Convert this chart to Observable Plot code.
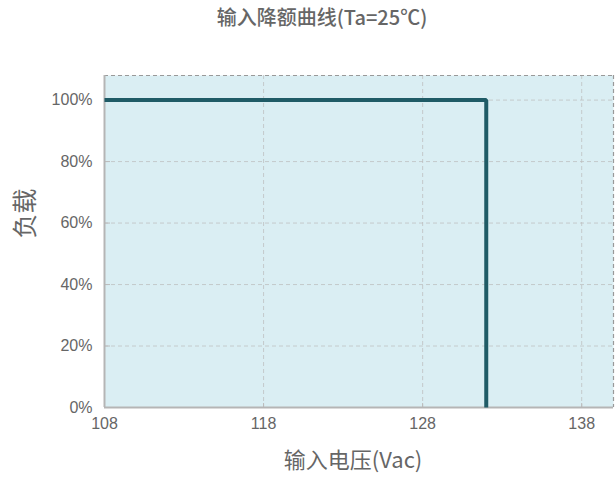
<!DOCTYPE html>
<html>
<head>
<meta charset="utf-8">
<script src="https://cdn.jsdelivr.net/npm/d3@7"></script>
<script src="https://cdn.jsdelivr.net/npm/@observablehq/plot@0.6"></script>
<style>
  html, body { margin: 0; padding: 0; background: #fff; }
</style>
</head>
<body>
<div id="chart"></div>
<script>
const voltage = [108, 132, 132];
const load = [100, 100, 0];
const xTicks = [108, 118, 128, 138];
const yTicks = [0, 20, 40, 60, 80, 100];
const title = "输入降额曲线(Ta=25℃)";
const xLabel = "输入电压(Vac)";
const yLabel = "负载";

const data = voltage.map((v, i) => ({x: v, y: load[i]}));
const font = "'Liberation Sans', Arial, 'Noto Sans CJK SC', sans-serif";
const cjk = "'Noto Sans CJK SC', 'Liberation Sans', sans-serif";

const chart = Plot.plot({
  width: 616,
  height: 477,
  marginLeft: 104,
  marginRight: 3,
  marginTop: 75,
  marginBottom: 70,
  style: {fontFamily: font, fontSize: "16px", color: "#666", background: "#fff"},
  x: {domain: [108, 140], ticks: xTicks},
  y: {domain: [0, 108], ticks: yTicks},
  marks: [
    Plot.frame({fill: "#daeef3", stroke: null}),
    Plot.gridX(xTicks.slice(1), {stroke: "#bbb", strokeOpacity: 0.7, strokeDasharray: "4,3"}),
    Plot.gridY(yTicks.slice(1), {stroke: "#bbb", strokeOpacity: 0.7, strokeDasharray: "4,3"}),
    Plot.ruleY([108], {stroke: "#999", strokeDasharray: "4,3", strokeWidth: 1.2}),
    Plot.ruleX([140], {stroke: "#999", strokeDasharray: "4,3", strokeWidth: 1.2}),
    Plot.axisX({anchor: "top", ticks: xTicks, text: null, label: null, tickSize: 5, dy: 332, stroke: "#bbb"}),
    Plot.axisY({anchor: "right", ticks: yTicks, text: null, label: null, tickSize: 5, dx: -509, stroke: "#bbb"}),
    Plot.axisX({ticks: xTicks, tickSize: 0, tickPadding: 10, fill: "#666", fontSize: 16, label: null}),
    Plot.axisY({ticks: yTicks, tickSize: 0, tickPadding: 12, fill: "#666", fontSize: 16, label: null,
      tickFormat: d => d + "%"}),
    Plot.ruleX([108], {stroke: "#b5b5b5", strokeWidth: 2}),
    Plot.ruleY([0], {stroke: "#b5b5b5", strokeWidth: 2}),
    Plot.line(data, {x: "x", y: "y", stroke: "#1f5b66", strokeWidth: 4, strokeLinejoin: "miter", strokeLinecap: "butt"}),
    Plot.text([title], {frameAnchor: "top", dx: -37, dy: -57, fontSize: 20, fill: "#666",
      fontFamily: cjk, fontWeight: 500, lineAnchor: "middle"}),
    Plot.text([xLabel], {frameAnchor: "bottom", dx: -6, dy: 53, fontSize: 22, fill: "#666",
      fontFamily: cjk, lineAnchor: "middle"}),
    Plot.text([yLabel], {frameAnchor: "left", dx: -79, dy: -3, rotate: -90, fontSize: 25, fill: "#666",
      fontFamily: cjk, lineAnchor: "middle"})
  ]
});
document.getElementById("chart").appendChild(chart);
</script>
</body>
</html>
